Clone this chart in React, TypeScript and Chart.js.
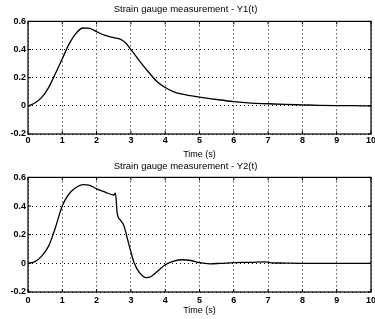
import React, { useEffect, useRef } from "react";
import { Chart, registerables } from "chart.js";

Chart.register(...registerables);

// ---- data ----
const timeY1 = [0, 0.2, 0.4, 0.6, 0.8, 1.0, 1.2, 1.4, 1.6, 1.8, 2.0, 2.25, 2.5, 2.7, 2.85, 3.0, 3.25, 3.5, 3.75, 4.0, 4.25, 4.5, 5.0, 5.5, 6.0, 6.5, 7.0, 7.5, 8.0, 8.5, 9.0, 9.5, 10.0];
const valuesY1 = [0, 0.02, 0.06, 0.13, 0.23, 0.335, 0.44, 0.515, 0.553, 0.55, 0.527, 0.5, 0.484, 0.472, 0.447, 0.40, 0.32, 0.244, 0.175, 0.13, 0.1, 0.083, 0.062, 0.045, 0.03, 0.02, 0.015, 0.01, 0.007, 0.004, 0.002, 0.001, 0.0];

const timeY2 = [0, 0.2, 0.4, 0.6, 0.7, 0.8, 0.9, 1.0, 1.1, 1.25, 1.4, 1.6, 1.8, 2.0, 2.25, 2.5, 2.55, 2.6, 2.7, 2.8, 2.9, 3.0, 3.1, 3.25, 3.45, 3.6, 3.8, 4.0, 4.25, 4.5, 4.75, 5.0, 5.3, 5.6, 6.0, 6.5, 6.9, 7.1, 7.5, 8.0, 9.0, 10.0];
const valuesY2 = [0, 0.012, 0.05, 0.12, 0.18, 0.25, 0.33, 0.40, 0.45, 0.5, 0.53, 0.55, 0.545, 0.52, 0.497, 0.477, 0.49, 0.35, 0.3, 0.26, 0.17, 0.08, 0.0, -0.065, -0.1, -0.09, -0.05, -0.01, 0.015, 0.025, 0.02, 0.005, -0.003, 0.0, 0.005, 0.007, 0.01, 0.004, 0.002, 0.0, 0.0, 0.0];

const xTickValues = [0, 1, 2, 3, 4, 5, 6, 7, 8, 9, 10];
const yTickValues = [-0.2, 0, 0.2, 0.4, 0.6];
const chartTitles = ["Strain gauge measurement - Y1(t)", "Strain gauge measurement - Y2(t)"];
const xAxisTitle = "Time (s)";

const FONT = "'Liberation Sans', Arial, Helvetica, sans-serif";

const framePlugin = {
  id: "frame",
  afterDatasetsDraw(chart: any) {
    const { ctx, chartArea: a, scales } = chart;
    ctx.save();
    ctx.strokeStyle = "#000";
    ctx.lineWidth = 1.2;
    ctx.strokeRect(a.left, a.top, a.right - a.left, a.bottom - a.top);
    ctx.lineWidth = 1;
    ctx.beginPath();
    for (const v of xTickValues) {
      const px = scales.x.getPixelForValue(v);
      ctx.moveTo(px, a.bottom);
      ctx.lineTo(px, a.bottom - 3);
      ctx.moveTo(px, a.top);
      ctx.lineTo(px, a.top + 3);
    }
    for (const v of yTickValues) {
      const py = scales.y.getPixelForValue(v);
      ctx.moveTo(a.left, py);
      ctx.lineTo(a.left + 3, py);
      ctx.moveTo(a.right, py);
      ctx.lineTo(a.right - 3, py);
    }
    ctx.stroke();
    ctx.restore();
  },
};

function makeConfig(times: number[], values: number[], title: string, cfg: any) {
  return {
    type: "line",
    data: {
      datasets: [
        {
          data: times.map((t, i) => ({ x: t, y: values[i] })),
          borderColor: "#000",
          borderWidth: 1.3,
          pointRadius: 0,
          fill: false,
          cubicInterpolationMode: "monotone",
        },
      ],
    },
    options: {
      animation: false,
      responsive: false,
      layout: { padding: { left: 0, right: 4, top: 0, bottom: 0 } },
      plugins: {
        legend: { display: false },
        tooltip: { enabled: false },
        title: {
          display: true,
          text: title,
          color: "#000",
          font: { family: FONT, size: 9.5, weight: "normal" },
          padding: cfg.titlePad,
        },
      },
      scales: {
        x: {
          type: "linear",
          min: 0,
          max: 10,
          afterBuildTicks: (scale: any) => {
            scale.ticks = xTickValues.map((v) => ({ value: v }));
          },
          afterFit: (scale: any) => {
            scale.height = cfg.xHeight;
            scale.paddingRight = 0;
            scale.paddingLeft = 0;
          },
          grid: { color: "#000", lineWidth: 1, drawTicks: false },
          border: { display: false, dash: [1, 3] },
          ticks: {
            color: "#000",
            padding: cfg.xTickPad,
            font: { family: FONT, size: 9, weight: "bold" },
            maxRotation: 0,
            autoSkip: false,
            callback: (v: any) => String(v),
          },
          title: {
            display: true,
            text: xAxisTitle,
            color: "#000",
            font: { family: FONT, size: 9, weight: "normal" },
            padding: { top: 0, bottom: cfg.xTitlePadBottom },
          },
        },
        y: {
          type: "linear",
          min: -0.2,
          max: 0.6,
          afterBuildTicks: (scale: any) => {
            scale.ticks = yTickValues.map((v) => ({ value: v }));
          },
          afterFit: (scale: any) => {
            scale.width = 28;
            scale.paddingTop = 0;
            scale.paddingBottom = 0;
          },
          grid: { color: "#000", lineWidth: 1, drawTicks: false },
          border: { display: false, dash: [1, 3] },
          ticks: {
            color: "#000",
            padding: 2,
            font: { family: FONT, size: 9, weight: "bold" },
            autoSkip: false,
            callback: (v: any) => (Math.abs(v) < 1e-9 ? "0" : Number(v).toFixed(1)),
          },
        },
      },
    },
    plugins: [framePlugin],
  } as any;
}

function StrainChart(props: { times: number[]; values: number[]; title: string; height: number; top: number; cfg: any }) {
  const ref = useRef<HTMLCanvasElement | null>(null);
  useEffect(() => {
    if (!ref.current) return;
    const chart = new Chart(ref.current, makeConfig(props.times, props.values, props.title, props.cfg));
    return () => chart.destroy();
  }, []);
  return (
    <canvas
      ref={ref}
      width={375}
      height={props.height}
      style={{ position: "absolute", left: 0, top: props.top, width: 375, height: props.height, display: "block" }}
    />
  );
}

export default function App() {
  return (
    <div style={{ position: "absolute", left: 0, top: 0, width: 375, height: 319, background: "#fff" }}>
      <StrainChart
        times={timeY1}
        values={valuesY1}
        title={chartTitles[0]}
        height={160}
        top={0}
        cfg={{ titlePad: { top: 4, bottom: 6 }, xHeight: 26, xTickPad: 1, xTitlePadBottom: 0 }}
      />
      <StrainChart
        times={timeY2}
        values={valuesY2}
        title={chartTitles[1]}
        height={159}
        top={160}
        cfg={{ titlePad: { top: 1, bottom: 5 }, xHeight: 27, xTickPad: 3, xTitlePadBottom: 3 }}
      />
    </div>
  );
}
